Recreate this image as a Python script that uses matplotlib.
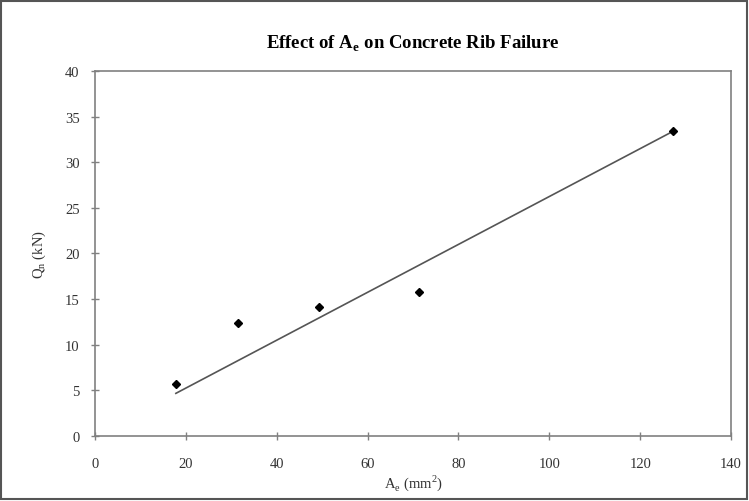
import numpy as np
import matplotlib
matplotlib.use('Agg')
import matplotlib.pyplot as plt
from matplotlib.patches import Rectangle

# data
area = np.array([17.8, 31.5, 49.3, 71.3, 127.2])   # A_e (mm^2)
qn = np.array([5.7, 12.4, 14.1, 15.8, 33.4])       # Q_n (kN)
x_ticks = [0, 20, 40, 60, 80, 100, 120, 140]
y_ticks = [0, 5, 10, 15, 20, 25, 30, 35, 40]

plt.rcParams['font.family'] = ['Liberation Serif', 'DejaVu Serif']

fig = plt.figure(figsize=(7.49, 5.02), dpi=100)
ax = fig.add_axes([0.1268, 0.1295, 0.8493, 0.7271])

# trendline forced through the origin
slope = np.sum(area * qn) / np.sum(area * area)
xs = np.array([area.min(), area.max()])
ax.plot(xs, slope * xs, color='#555555', lw=1.2)
ax.plot(area, qn, 'D', color='black', ms=4.5, ls='none')

ax.set_xlim(0, 140)
ax.set_ylim(0, 40)
ax.set_xticks(x_ticks)
ax.set_yticks(y_ticks)
ax.tick_params(direction='inout', length=6, width=1, colors='#808080',
               labelcolor='#333333', labelsize=10.5)
ax.tick_params(axis='x', pad=12)
ax.tick_params(axis='y', pad=8)
for s in ax.spines.values():
    s.set_color('#808080')
    s.set_linewidth(1.2)

ax.set_title('Effect of A$_\\mathregular{e}$ on Concrete Rib Failure',
             fontsize=13.5, fontweight='bold', pad=17)
ax.set_xlabel('A$_\\mathregular{e}$ (mm$^\\mathregular{2}$)', fontsize=10.5,
              color='#333333', labelpad=2)
ax.set_ylabel('Q$_\\mathregular{n}$ (kN)', fontsize=10.5, color='#333333',
              labelpad=12)

fig.patches.append(Rectangle((0.002, 0.003), 0.995, 0.993,
                             transform=fig.transFigure, fill=False,
                             edgecolor='#555555', lw=1.5))

fig.savefig('out.png', dpi=100)
